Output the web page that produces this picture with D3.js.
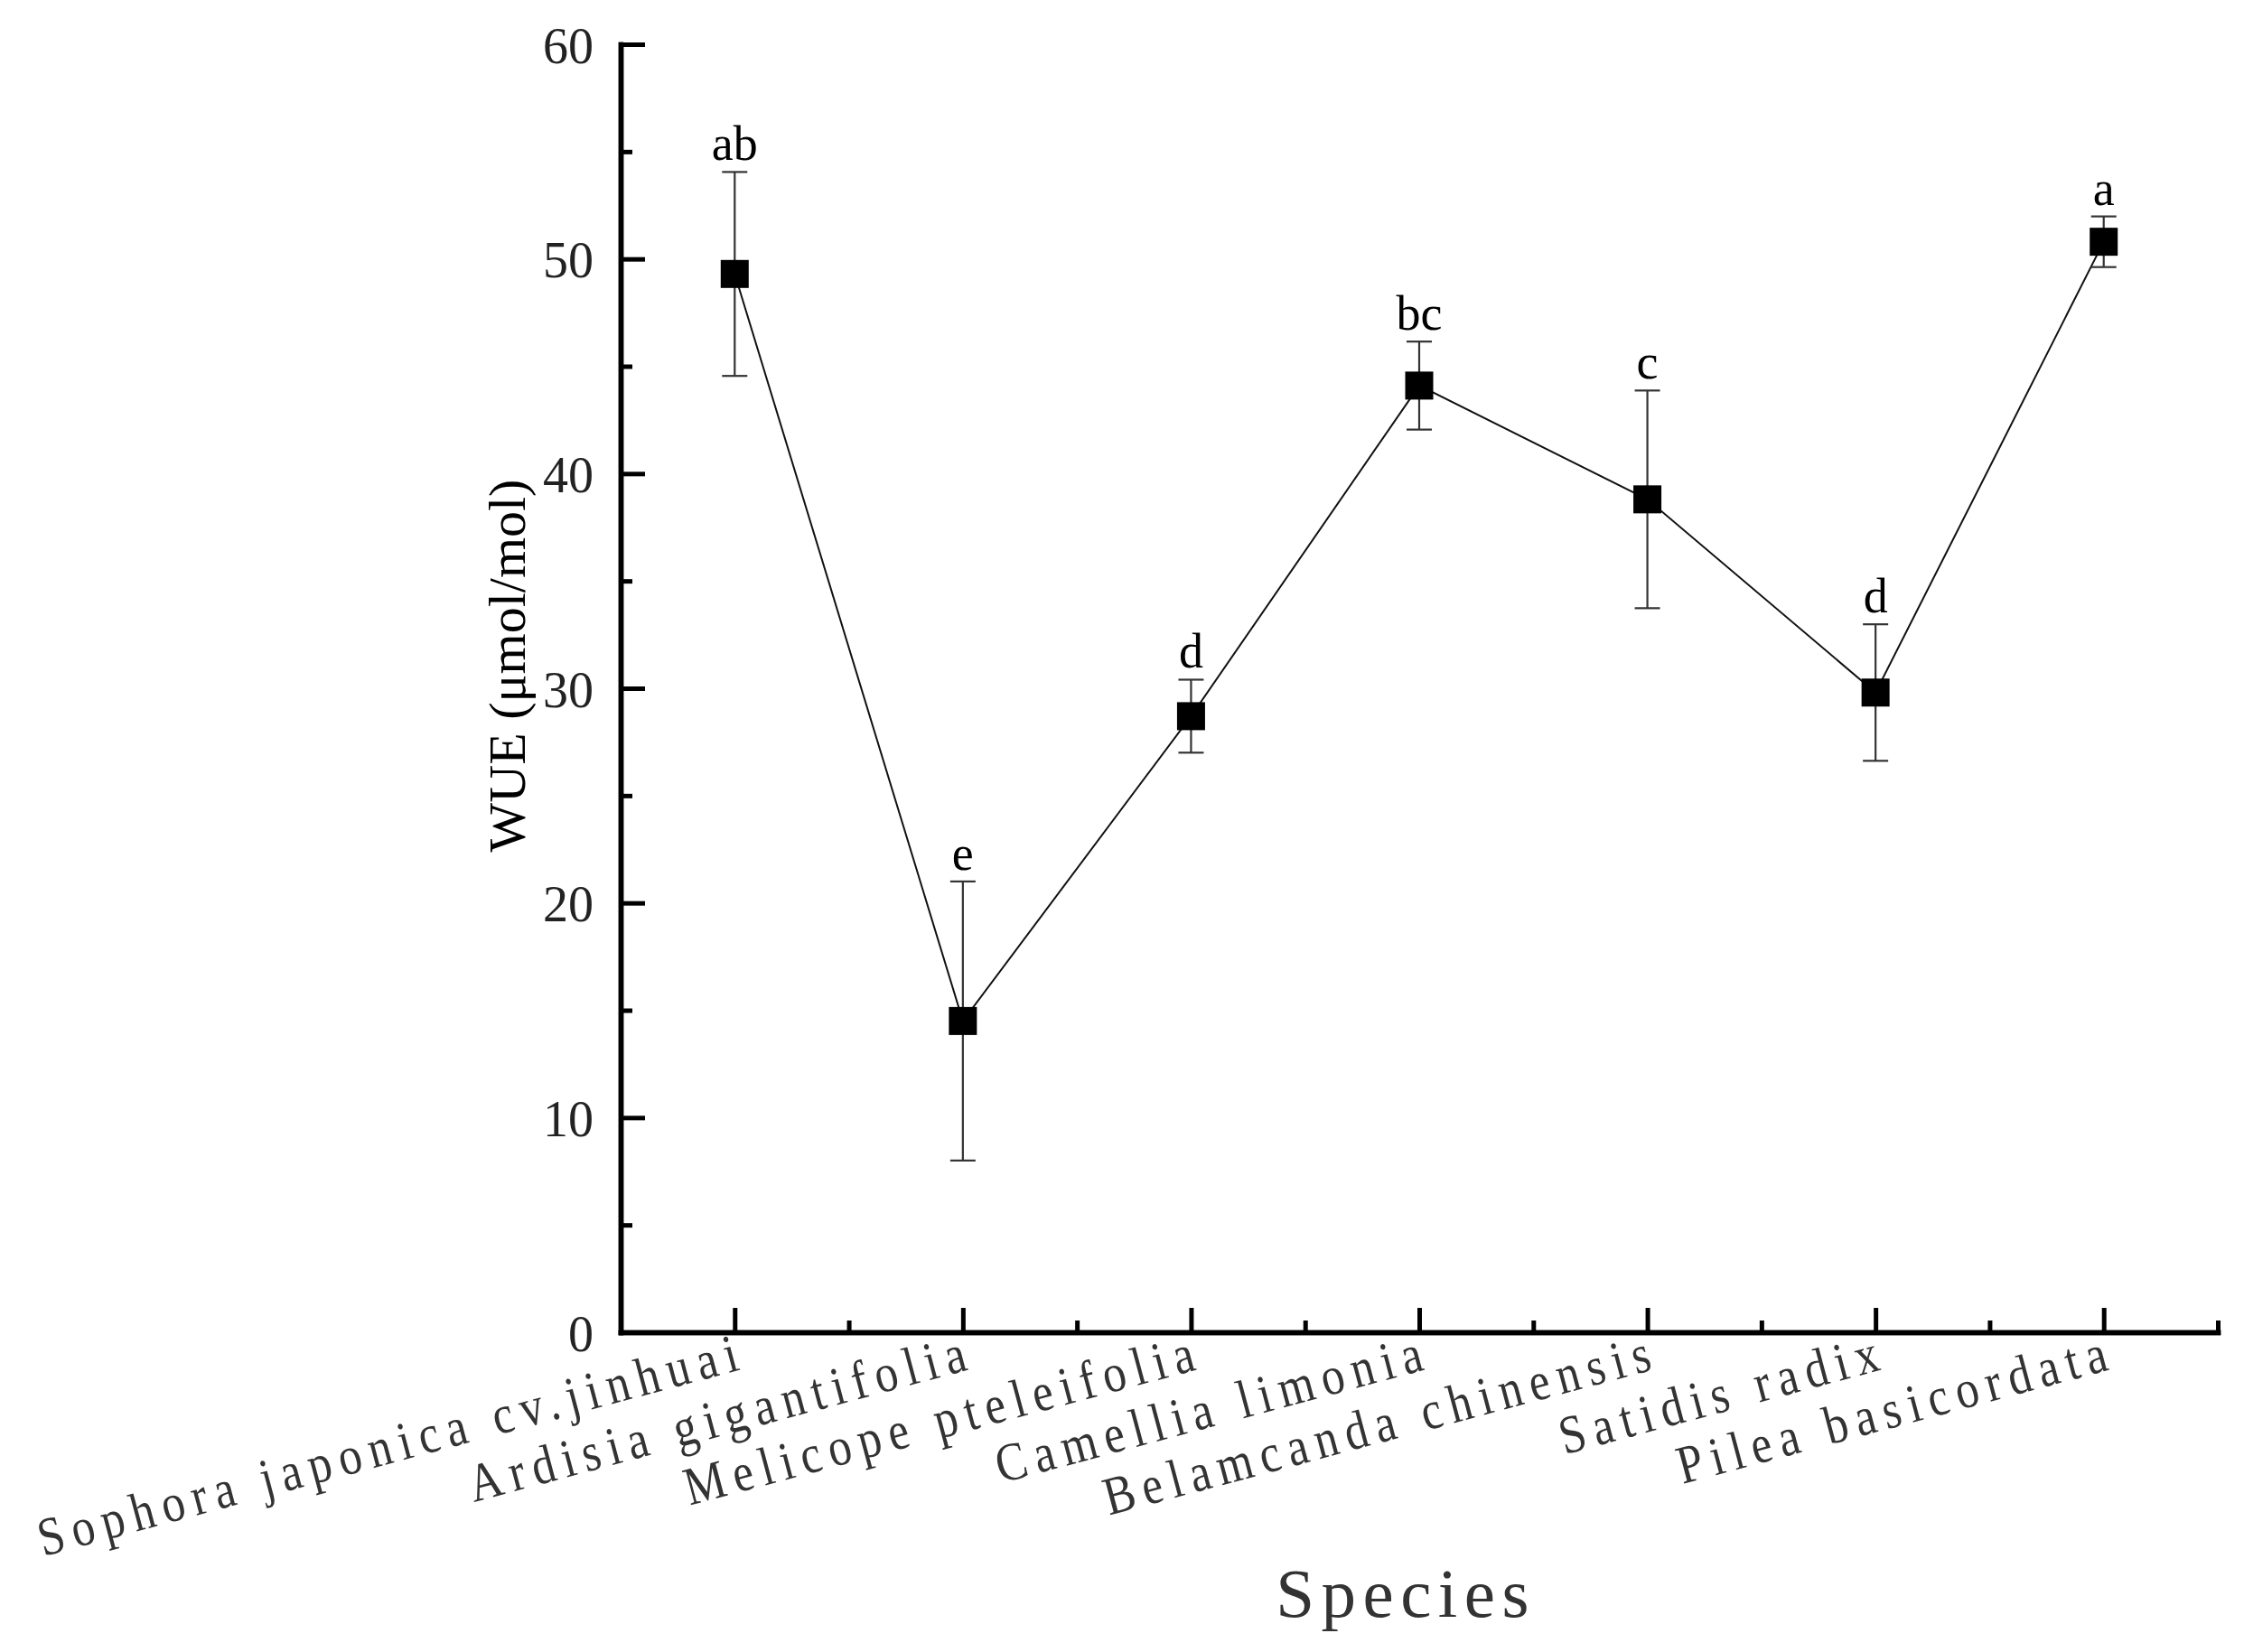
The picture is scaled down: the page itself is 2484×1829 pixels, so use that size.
<!DOCTYPE html>
<html>
<head>
<meta charset="utf-8">
<script src="https://cdn.jsdelivr.net/npm/d3@7"></script>
<style>
	body { margin: 0; background: #fff; }
	text { font-family: "Liberation Serif", "Times New Roman", serif; }
</style>
</head>
<body>
<div id="chart"></div>
<script>
// data
const species = [
	"Sophora japonica cv.jinhuai",
	"Ardisia gigantifolia",
	"Melicope pteleifolia",
	"Camellia limonia",
	"Belamcanda chinensis",
	"Satidis radix",
	"Pilea basicordata",
];
const wue = [49.3, 14.5, 28.7, 44.1, 38.8, 29.8, 50.8];
const errs = [4.75, 6.5, 1.7, 2.05, 5.07, 3.18, 1.18];
const letters = ["ab", "e", "d", "bc", "c", "d", "a"];
const yTicks = [0, 10, 20, 30, 40, 50, 60];
const yMinor = [5, 15, 25, 35, 45, 55];

const data = species.map((s, i) => ({
	pos: i + 1,
	name: s,
	value: wue[i],
	err: errs[i],
	letter: letters[i],
}));

// set the dimensions and margins of the graph
const margin = { top: 49, right: 29, bottom: 354, left: 687 },
	width = 2484 - margin.left - margin.right,
	height = 1829 - margin.top - margin.bottom;

const svg = d3
	.select("#chart")
	.append("svg")
	.attr("width", 2484)
	.attr("height", 1829)
	.append("g")
	.attr("transform", `translate(${margin.left},${margin.top})`);

const x = d3.scaleLinear().domain([0.5, 7.5]).range([0, width]);
const y = d3.scaleLinear().domain([0, 60]).range([height, 0]);

// minor ticks first, majors on top
svg.append("g")
	.attr("class", "minor")
	.call(d3.axisLeft(y).tickValues(yMinor).tickSize(-13).tickSizeOuter(0).tickFormat(""));
svg.append("g")
	.attr("class", "minor")
	.attr("transform", `translate(0, ${height})`)
	.call(
		d3.axisBottom(x)
			.tickValues([1.5, 2.5, 3.5, 4.5, 5.5, 6.5, 7.5])
			.tickSize(-13)
			.tickSizeOuter(0)
			.tickFormat("")
	);

// Y axis
const yAxis = svg.append("g")
	.call(d3.axisLeft(y).tickValues(yTicks).tickSize(-27).tickSizeOuter(0).tickPadding(30));
yAxis.selectAll("text")
	.style("font-size", "56px")
	.attr("fill", "#222")
	.attr("dy", "0.36em");

// X axis, labels slanted and a bit condensed like the original
const xAxis = svg.append("g")
	.attr("transform", `translate(0, ${height})`)
	.call(
		d3.axisBottom(x)
			.tickValues(data.map((d) => d.pos))
			.tickSize(-27)
			.tickSizeOuter(0)
			.tickFormat((p) => species[p - 1])
	);
xAxis.selectAll("text")
	.attr("y", 0)
	.attr("dy", 0)
	.attr("text-anchor", "end")
	.attr("transform", "translate(15, 39) rotate(-15) scale(0.85, 1)")
	.style("font-size", "60px")
	.style("letter-spacing", "10.5px")
	.attr("fill", "#333");

svg.selectAll(".domain")
	.attr("stroke", "#000")
	.attr("stroke-width", 5.5)
	.attr("stroke-linecap", "square");
svg.selectAll(".tick line")
	.attr("stroke", "#000")
	.attr("stroke-width", 5);

// connecting line
svg.append("path")
	.datum(data)
	.attr("fill", "none")
	.attr("stroke", "#111")
	.attr("stroke-width", 2)
	.attr(
		"d",
		d3.line()
			.x((d) => x(d.pos))
			.y((d) => y(d.value))
	);

// error bars
const bars = svg.append("g").attr("stroke", "#333").attr("stroke-width", 2.2);
bars.selectAll(".stem")
	.data(data)
	.join("line")
	.attr("x1", (d) => x(d.pos))
	.attr("x2", (d) => x(d.pos))
	.attr("y1", (d) => y(d.value + d.err))
	.attr("y2", (d) => y(d.value - d.err));
bars.selectAll(".capTop")
	.data(data)
	.join("line")
	.attr("x1", (d) => x(d.pos) - 14)
	.attr("x2", (d) => x(d.pos) + 14)
	.attr("y1", (d) => y(d.value + d.err))
	.attr("y2", (d) => y(d.value + d.err));
bars.selectAll(".capBottom")
	.data(data)
	.join("line")
	.attr("x1", (d) => x(d.pos) - 14)
	.attr("x2", (d) => x(d.pos) + 14)
	.attr("y1", (d) => y(d.value - d.err))
	.attr("y2", (d) => y(d.value - d.err));

// square markers
svg.selectAll(".marker")
	.data(data)
	.join("rect")
	.attr("x", (d) => x(d.pos) - 15.5)
	.attr("y", (d) => y(d.value) - 15.5)
	.attr("width", 31)
	.attr("height", 31)
	.attr("fill", "#000");

// significance letters
svg.selectAll(".letter")
	.data(data)
	.join("text")
	.attr("x", (d) => x(d.pos))
	.attr("y", (d) => y(d.value + d.err) - 13)
	.attr("text-anchor", "middle")
	.style("font-size", "54px")
	.attr("fill", "#000")
	.text((d) => d.letter);

// axis titles
svg.append("text")
	.attr("transform", `translate(${581 - margin.left}, ${737 - margin.top}) rotate(-90)`)
	.attr("text-anchor", "middle")
	.style("font-size", "58px")
	.attr("fill", "#000")
	.text("WUE (μmol/mol)");

svg.append("text")
	.attr("x", 1556 - margin.left)
	.attr("y", 1790 - margin.top)
	.attr("text-anchor", "middle")
	.style("font-size", "77px")
	.style("letter-spacing", "7.5px")
	.attr("fill", "#333")
	.text("Species");
</script>
</body>
</html>
